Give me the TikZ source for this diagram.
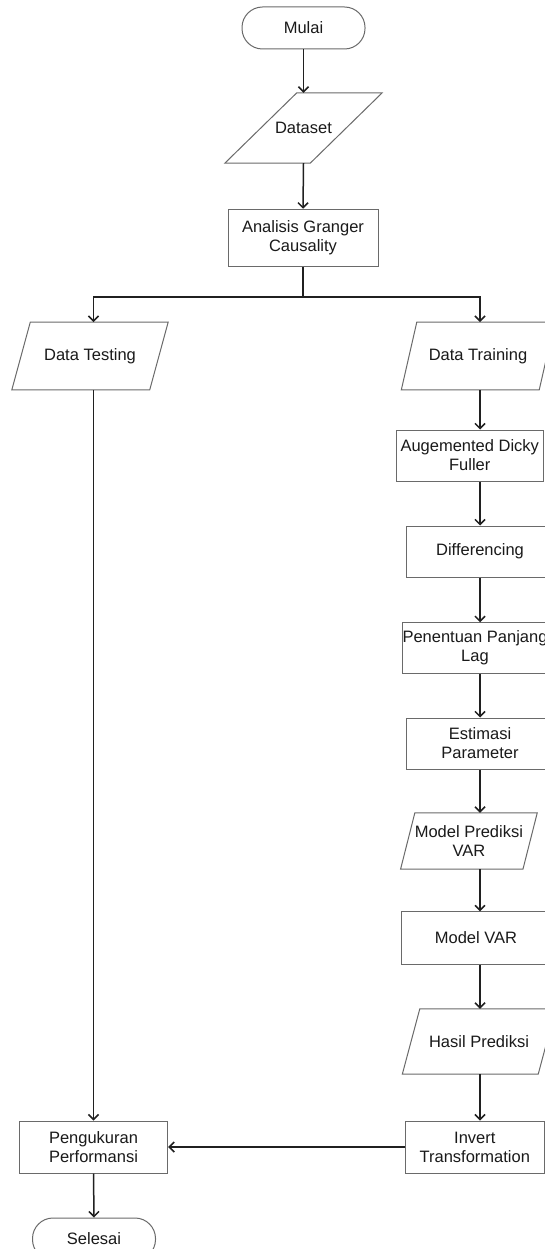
\documentclass[tikz,border=0pt]{standalone}
\usepackage{fontspec}
\setmainfont{Liberation Sans}
\usepackage{xcolor}
\usepackage{tikz}
\usetikzlibrary{arrows.meta}

\definecolor{boxgray}{HTML}{6A6A6A}
\definecolor{linegray}{HTML}{202020}
\definecolor{textgray}{HTML}{1A1A1A}

\tikzset{
    base/.style={inner sep=0pt, text=textgray, font=\fontsize{16.5}{19}\selectfont, align=center},
    terminal/.style={base, draw=boxgray, line width=1pt, rounded corners=20.5pt,
        minimum width=123pt, minimum height=42pt},
    procbox/.style={base, draw=boxgray, line width=1pt, minimum height=52pt},
    iobox/.style={base},
    flow/.style={draw=linegray, line width=1.5pt, -{Straight Barb[length=5pt,width=10pt]}},
    plain/.style={draw=linegray, line width=1.5pt}
}

% parallelogram round an io node: name, slant
\newcommand{\ioshape}[2]{%
    \draw[boxgray, line width=1pt] ([xshift=#2]#1.north west) -- (#1.north east)
        -- ([xshift=-#2]#1.south east) -- (#1.south west) -- cycle;}

\begin{document}
\begin{tikzpicture}[x=1pt, y=-1pt]
    \useasboundingbox (0,0) rectangle (545,1249);
    \clip (0,0) rectangle (545,1249);
    \fill[white] (0,0) rectangle (545,1249);

    % Top of the chart
    \node[terminal] (mulai) at (303.5,28) {Mulai};
    \node[iobox, minimum width=157pt, minimum height=70pt] (dataset) at (303.5,128) {Dataset};
    \ioshape{dataset}{72pt}
    \node[procbox, minimum width=150pt, minimum height=57.5pt] (granger) at (303,238) {Analisis Granger\\Causality};

    % Left column
    \node[iobox, minimum width=156pt, minimum height=67.5pt] (testing) at (90,356) {Data Testing};
    \ioshape{testing}{18.5pt}
    \node[procbox, minimum width=148.4pt] (perf) at (93.5,1147) {Pengukuran\\Performansi};
    \node[terminal] (selesai) at (94,1239) {Selesai};

    % Right column
    \node[iobox, minimum width=153pt, minimum height=67.5pt] (training) at (478,356) {Data Training};
    \ioshape{training}{15.5pt}
    \node[procbox, minimum width=147.5pt, minimum height=51pt] (adf) at (469.75,455.5) {Augemented Dicky\\Fuller};
    \node[procbox, minimum width=148pt, minimum height=51pt] (diff) at (480,551.5) {Differencing};
    \node[procbox, minimum width=146pt, minimum height=50.5pt] (lag) at (475,648) {Penentuan Panjang\\Lag};
    \node[procbox, minimum width=148pt, minimum height=51pt] (est) at (480,743.5) {Estimasi\\Parameter};
    \node[iobox, minimum width=136.3pt, minimum height=56pt] (mpv) at (468.9,841) {Model Prediksi\\VAR};
    \ioshape{mpv}{14.3pt}
    \node[procbox, minimum width=148.6pt, minimum height=52.3pt] (mvar) at (476,938) {Model VAR};
    \node[iobox, minimum width=153pt, minimum height=65pt] (hasil) at (479,1041.5) {Hasil Prediksi};
    \ioshape{hasil}{17.5pt}
    \node[procbox, minimum width=138.4pt] (invert) at (474.8,1147) {Invert\\Transformation};

    \coordinate (rcol) at (480,0);
    \coordinate (split) at (305,297);

    % Draw connectors
    \draw[flow] (mulai.south) -- (dataset.north);
    \draw[flow] (dataset.south) -- (granger.north);
    \draw[plain] (granger.south) -- (granger.south |- split);
    \draw[flow] (split) -| (perf.north |- testing.north);
    \draw[flow] (split) -| (rcol |- training.north);
    \draw[flow] (perf.north |- testing.south) -- (perf.north);

    \draw[flow] (rcol |- training.south) -- (rcol |- adf.north);
    \draw[flow] (rcol |- adf.south) -- (rcol |- diff.north);
    \draw[flow] (rcol |- diff.south) -- (rcol |- lag.north);
    \draw[flow] (rcol |- lag.south) -- (rcol |- est.north);
    \draw[flow] (rcol |- est.south) -- (rcol |- mpv.north);
    \draw[flow] (rcol |- mpv.south) -- (rcol |- mvar.north);
    \draw[flow] (rcol |- mvar.south) -- (rcol |- hasil.north);
    \draw[flow] (rcol |- hasil.south) -- (rcol |- invert.north);

    \draw[flow] (invert.west) -- (perf.east);
    \draw[flow] (perf.south) -- (selesai.north);
\end{tikzpicture}
\end{document}
